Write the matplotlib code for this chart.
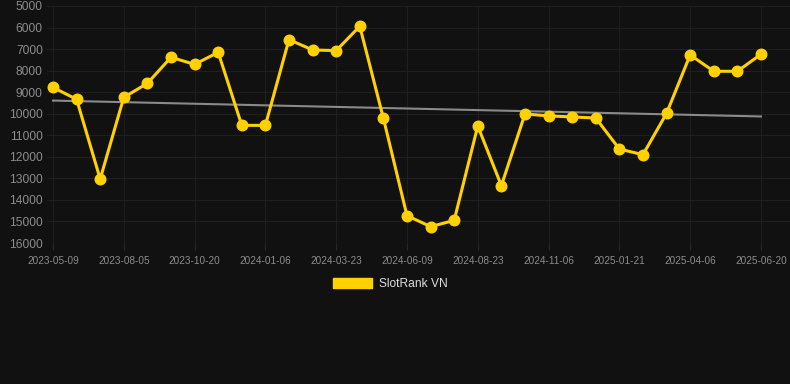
import numpy as np
import matplotlib.pyplot as plt
from matplotlib.patches import Patch

plt.rcParams['font.family'] = ['Liberation Sans', 'DejaVu Sans']

# rank values (lower = better, axis inverted)
ranks = [8780, 9330, 13030, 9240, 8590, 7380, 7710, 7150, 10540, 10540,
         6560, 7040, 7070, 5940, 10210, 14730, 15240, 14950, 10570, 13340,
         10010, 10100, 10150, 10200, 11640, 11900, 9980, 7270, 8030, 8030, 7240]
tick_labels = ['2023-05-09', '2023-08-05', '2023-10-20', '2024-01-06', '2024-03-23',
               '2024-06-09', '2024-08-23', '2024-11-06', '2025-01-21', '2025-04-06',
               '2025-06-20']
tick_step = 3

bg = '#111111'
gold = '#FFD100'

x = np.arange(len(ranks))

fig = plt.figure(figsize=(7.9, 3.84), dpi=100, facecolor=bg)
ax = fig.add_axes([47/790, 1 - 243/384, 743/790, 237/384])
ax.set_facecolor(bg)

# trend line
coef = np.polyfit(x, ranks, 1)
ax.plot(x, np.polyval(coef, x), color='#8a8a8a', lw=1.5, zorder=2)

ax.plot(x, ranks, color=gold, lw=2.2, marker='o', markersize=7.6, zorder=3)

ax.set_ylim(16000, 5000)
ax.set_yticks(np.arange(5000, 16001, 1000))
ax.set_xlim(-0.254, 31.23)
ax.set_xticks(x[::tick_step])
ax.set_xticklabels(tick_labels)

ax.grid(True, color='#1f1f1f', lw=0.8)
ax.set_axisbelow(True)
for s in ax.spines.values():
    s.set_visible(False)
ax.axhline(16000, color='#2a2a2a', lw=0.8, zorder=1)

ax.tick_params(axis='y', colors='#8c8c8c', labelsize=8.64, length=0, pad=3)
ax.tick_params(axis='x', colors='#262626', labelcolor='#8c8c8c', labelsize=7.2,
               length=5, pad=4)

handle = Patch(facecolor=gold, edgecolor=gold)
leg = fig.legend([handle], ['SlotRank VN'], loc='center',
                 bbox_to_anchor=(0.4937, 1 - 284/384), frameon=False,
                 fontsize=8.64, handlelength=3.3, handleheight=0.9,
                 handletextpad=0.55, labelcolor='#dddddd')

plt.savefig('out.png', dpi=100, facecolor=bg)
